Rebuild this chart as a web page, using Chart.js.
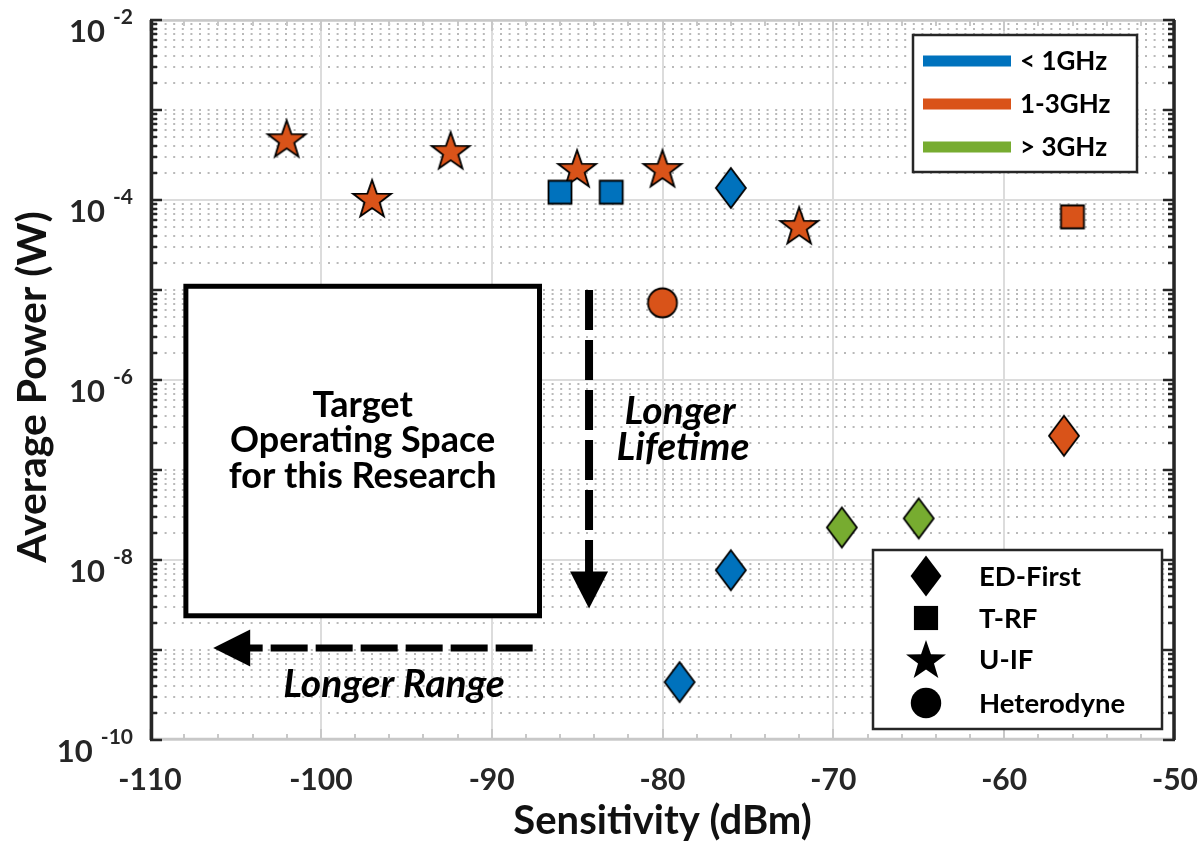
<!DOCTYPE html>
<html><head><meta charset="utf-8">
<script src="https://cdn.jsdelivr.net/npm/chart.js@4.4.0/dist/chart.umd.min.js"></script>
<style>html,body{margin:0;padding:0;background:#fff;}#wrap{width:1201px;height:848px;}</style>
</head><body><div id="wrap"><canvas id="c" width="1201" height="848"></canvas></div>
<script>
// ---- tick labels / categories ----
const xTickValues = [-110, -100, -90, -80, -70, -60, -50];
const yTickExponents = [-10, -8, -6, -4, -2];
const bandNames = ['< 1GHz', '1-3GHz', '> 3GHz'];
const archNames = ['ED-First', 'T-RF', 'U-IF', 'Heterodyne'];

// ---- series values (Sensitivity dBm, Average Power W) ----
const edFirstLowX  = [-76, -76, -79];
const edFirstLowY  = [1.36e-4, 7.7e-9, 4.4e-10];
const edFirstMidX  = [-56.5];
const edFirstMidY  = [2.4e-7];
const edFirstHighX = [-69.5, -65];
const edFirstHighY = [2.3e-8, 2.9e-8];
const trfLowX = [-86, -83];
const trfLowY = [1.22e-4, 1.22e-4];
const trfMidX = [-56];
const trfMidY = [6.5e-5];
const uifMidX = [-102, -97, -92.4, -85, -80, -72];
const uifMidY = [4.6e-4, 1.0e-4, 3.4e-4, 2.15e-4, 2.15e-4, 5.0e-5];
const hetMidX = [-80];
const hetMidY = [7.2e-6];

// ---- annotation positions (data units) ----
const targetBox = {x0: -107.9, x1: -87.2, y0: 2.4e-9, y1: 1.1e-5};
const lifetimeArrow = {x: -84.3, yStart: 1.0e-5, yTip: 2.9e-9};
const rangeArrow = {y: 1.05e-9, xStart: -87.6, xTip: -106.3};

const COLORS = ['#0072BD', '#D95319', '#77AC30'];
const FONT = 'Lato, "Open Sans", sans-serif';

function shapePath(g, shape, s) {
  g.beginPath();
  if (shape === 'diamond') {
    g.moveTo(0, -20 * s); g.lineTo(15 * s, 0); g.lineTo(0, 20 * s); g.lineTo(-15 * s, 0); g.closePath();
  } else if (shape === 'square') {
    g.rect(-11.5 * s, -11.5 * s, 23 * s, 23 * s);
  } else if (shape === 'star') {
    const R = 20 * s, r = R * 0.4;
    for (let i = 0; i < 10; i++) {
      const a = -Math.PI / 2 + i * Math.PI / 5;
      const rr = i % 2 === 0 ? R : r;
      const px = rr * Math.cos(a), py = rr * Math.sin(a);
      if (i === 0) g.moveTo(px, py); else g.lineTo(px, py);
    }
    g.closePath();
  } else {
    g.arc(0, 0, 14.5 * s, 0, Math.PI * 2);
  }
}
function makeMarker(shape, fill) {
  const c = document.createElement('canvas');
  c.width = 48; c.height = 48;
  const g = c.getContext('2d');
  g.translate(24, 24);
  shapePath(g, shape, 1);
  g.fillStyle = fill; g.fill();
  g.lineWidth = 1.8; g.strokeStyle = '#000'; g.lineJoin = 'miter'; g.stroke();
  return c;
}
function pts(xs, ys) { return xs.map((x, i) => ({x: x, y: ys[i]})); }
function ds(label, xs, ys, shape, color) {
  return {label: label, data: pts(xs, ys), pointStyle: makeMarker(shape, color),
          pointRadius: 18, pointHoverRadius: 18, showLine: false};
}

const datasets = [
  ds('ED-First < 1GHz', edFirstLowX, edFirstLowY, 'diamond', COLORS[0]),
  ds('ED-First 1-3GHz', edFirstMidX, edFirstMidY, 'diamond', COLORS[1]),
  ds('ED-First > 3GHz', edFirstHighX, edFirstHighY, 'diamond', COLORS[2]),
  ds('T-RF < 1GHz', trfLowX, trfLowY, 'square', COLORS[0]),
  ds('T-RF 1-3GHz', trfMidX, trfMidY, 'square', COLORS[1]),
  ds('U-IF 1-3GHz', uifMidX, uifMidY, 'star', COLORS[1]),
  ds('Heterodyne 1-3GHz', hetMidX, hetMidY, 'circle', COLORS[1])
];

function dashedLine(ctx, x0, y0, x1, y1, dash, gap) {
  const len = Math.hypot(x1 - x0, y1 - y0), ux = (x1 - x0) / len, uy = (y1 - y0) / len;
  let d = 0;
  ctx.beginPath();
  while (d < len) {
    const e = Math.min(d + dash, len);
    ctx.moveTo(x0 + ux * d, y0 + uy * d); ctx.lineTo(x0 + ux * e, y0 + uy * e);
    d = e + gap;
  }
  ctx.stroke();
}

const backgroundPlugin = {
  id: 'decor',
  beforeDraw(chart) {
    const ctx = chart.ctx;
    ctx.save(); ctx.fillStyle = '#fff'; ctx.fillRect(0, 0, chart.width, chart.height); ctx.restore();
  },
  beforeDatasetsDraw(chart) {
    const {ctx, chartArea: ca, scales: {x, y}} = chart;
    const L = ca.left, R = ca.right, T = ca.top, B = ca.bottom;
    ctx.save();
    // minor dotted horizontal grid
    ctx.strokeStyle = '#b9b9b9'; ctx.lineWidth = 2; ctx.setLineDash([2, 6.6]);
    for (let e = -10; e < -2; e++) {
      for (let k = 1; k <= 9; k++) {
        if (k === 1 && e % 2 === 0) continue;
        const py = Math.round(y.getPixelForValue(k * Math.pow(10, e)));
        ctx.beginPath(); ctx.moveTo(L + 6, py); ctx.lineTo(R - 2, py); ctx.stroke();
      }
    }
    ctx.setLineDash([]);
    // major grid
    ctx.strokeStyle = '#dcdcdc'; ctx.lineWidth = 2;
    yTickExponents.forEach(e => {
      const py = Math.round(y.getPixelForValue(Math.pow(10, e)));
      ctx.beginPath(); ctx.moveTo(L, py); ctx.lineTo(R, py); ctx.stroke();
    });
    xTickValues.forEach(v => {
      const px = Math.round(x.getPixelForValue(v));
      ctx.beginPath(); ctx.moveTo(px, T); ctx.lineTo(px, B); ctx.stroke();
    });
    // target box
    const bx0 = x.getPixelForValue(targetBox.x0), bx1 = x.getPixelForValue(targetBox.x1);
    const by0 = y.getPixelForValue(targetBox.y1), by1 = y.getPixelForValue(targetBox.y0);
    ctx.fillStyle = '#fff'; ctx.fillRect(bx0, by0, bx1 - bx0, by1 - by0);
    ctx.strokeStyle = '#000'; ctx.lineWidth = 5; ctx.strokeRect(bx0, by0, bx1 - bx0, by1 - by0);
    ctx.fillStyle = '#000'; ctx.textAlign = 'center'; ctx.textBaseline = 'alphabetic';
    ctx.font = 'bold 36px ' + FONT;
    const cx = (bx0 + bx1) / 2;
    ctx.fillText('Target', cx, 417);
    ctx.fillText('Operating Space', cx, 452);
    ctx.fillText('for this Research', cx, 488);
    // vertical arrow
    const ax = x.getPixelForValue(lifetimeArrow.x);
    const ay0 = y.getPixelForValue(lifetimeArrow.yStart), ayT = y.getPixelForValue(lifetimeArrow.yTip);
    ctx.lineWidth = 8; ctx.lineCap = 'butt';
    dashedLine(ctx, ax, ay0, ax, ayT - 34, 40, 10);
    ctx.beginPath(); ctx.moveTo(ax - 19, ayT - 37); ctx.lineTo(ax + 19, ayT - 37); ctx.lineTo(ax, ayT); ctx.closePath(); ctx.fill();
    // horizontal arrow
    const hy = y.getPixelForValue(rangeArrow.y);
    const hx0 = x.getPixelForValue(rangeArrow.xStart), hxT = x.getPixelForValue(rangeArrow.xTip);
    ctx.lineWidth = 7;
    dashedLine(ctx, hx0, hy, hxT + 34, hy, 37, 8);
    ctx.beginPath(); ctx.moveTo(hxT + 37, hy - 18.5); ctx.lineTo(hxT + 37, hy + 18.5); ctx.lineTo(hxT, hy); ctx.closePath(); ctx.fill();
    // arrow texts
    ctx.font = 'italic bold 39px ' + FONT;
    ctx.fillText('Longer', 680, 424);
    ctx.fillText('Lifetime', 683, 460);
    ctx.fillText('Longer Range', 394, 697);
    // axes: top/bottom light
    ctx.strokeStyle = '#c8c8c8'; ctx.lineWidth = 2.5;
    ctx.beginPath(); ctx.moveTo(L, T + 0.5); ctx.lineTo(R, T + 0.5); ctx.moveTo(L, B - 1); ctx.lineTo(R, B - 1); ctx.stroke();
    ctx.lineWidth = 2;
    for (let v = -110; v <= -50; v += 2) {
      const px = Math.round(x.getPixelForValue(v));
      const len = (v % 10 === 0) ? 11 : 6;
      ctx.beginPath(); ctx.moveTo(px, B); ctx.lineTo(px, B - len); ctx.moveTo(px, T); ctx.lineTo(px, T + len); ctx.stroke();
    }
    // left/right dark axes
    ctx.strokeStyle = '#262626'; ctx.lineWidth = 3.5;
    ctx.beginPath(); ctx.moveTo(L + 1.5, T); ctx.lineTo(L + 1.5, B); ctx.moveTo(R - 1, T); ctx.lineTo(R - 1, B); ctx.stroke();
    ctx.lineWidth = 2.5;
    for (let e = -10; e <= -2; e++) {
      for (let k = 1; k <= 9; k++) {
        if (e === -2 && k > 1) break;
        const py = Math.round(y.getPixelForValue(k * Math.pow(10, e)));
        const len = k === 1 ? 12 : 7;
        ctx.beginPath(); ctx.moveTo(L, py); ctx.lineTo(L + len, py); ctx.moveTo(R, py); ctx.lineTo(R - len, py); ctx.stroke();
      }
    }
    // y tick labels with superscript
    ctx.fillStyle = '#262626'; ctx.textAlign = 'left';
    yTickExponents.forEach(e => {
      const py = y.getPixelForValue(Math.pow(10, e));
      const sup = String(e);
      ctx.font = 'bold 21px ' + FONT;
      const ws = ctx.measureText(sup).width;
      ctx.font = 'bold 31px ' + FONT;
      const wb = ctx.measureText('10').width;
      const right = 133;
      ctx.fillText('10', right - ws - 8 - wb, py + 22);
      ctx.font = 'bold 21px ' + FONT;
      ctx.fillText(sup, right - ws, py + 4);
    });
    // axis titles
    ctx.fillStyle = '#111';
    ctx.font = 'bold 40px ' + FONT; ctx.textAlign = 'center'; ctx.textBaseline = 'alphabetic';
    ctx.fillText('Sensitivity (dBm)', (L + R) / 2, 834);
    ctx.save(); ctx.translate(46, 387); ctx.rotate(-Math.PI / 2);
    ctx.font = 'bold 41px ' + FONT;
    ctx.fillText('Average Power (W)', 0, 0); ctx.restore();
    ctx.restore();
  },
  afterDatasetsDraw(chart) {
    const {ctx, chartArea: ca} = chart;
    ctx.save();
    // band legend
    const lx0 = 913, ly0 = 35, lx1 = 1137, ly1 = 172;
    ctx.fillStyle = '#fff'; ctx.fillRect(lx0, ly0, lx1 - lx0, ly1 - ly0);
    ctx.strokeStyle = '#262626'; ctx.lineWidth = 2.5; ctx.strokeRect(lx0, ly0, lx1 - lx0, ly1 - ly0);
    ctx.font = 'bold 26px ' + FONT; ctx.textAlign = 'left'; ctx.textBaseline = 'middle';
    bandNames.forEach((name, i) => {
      const yy = 61 + i * 43;
      ctx.strokeStyle = COLORS[i]; ctx.lineWidth = 11; ctx.lineCap = 'butt';
      ctx.beginPath(); ctx.moveTo(923, yy); ctx.lineTo(1011, yy); ctx.stroke();
      ctx.fillStyle = '#000'; ctx.fillText(name, 1020, yy + 1);
    });
    // shape legend
    const sx0 = 873, sy0 = 550, sx1 = 1162, sy1 = 729;
    ctx.fillStyle = '#fff'; ctx.fillRect(sx0, sy0, sx1 - sx0, sy1 - sy0);
    ctx.strokeStyle = '#262626'; ctx.lineWidth = 2.5; ctx.strokeRect(sx0, sy0, sx1 - sx0, sy1 - sy0);
    const shapes = ['diamond', 'square', 'star', 'circle'];
    const rows = [576, 618, 659, 703];
    archNames.forEach((name, i) => {
      ctx.save(); ctx.translate(926, rows[i] + (shapes[i] === 'star' ? 2 : 0));
      shapePath(ctx, shapes[i], i === 0 ? 1.03 : 1.05);
      ctx.fillStyle = '#000'; ctx.fill(); ctx.restore();
      ctx.fillStyle = '#000'; ctx.font = 'bold 27.5px ' + FONT;
      ctx.fillText(name, 979, rows[i] + 1);
    });
    ctx.restore();
  }
};

new Chart(document.getElementById('c'), {
  type: 'scatter',
  data: {datasets: datasets},
  options: {
    responsive: false, animation: false, events: [],
    layout: {padding: {top: 20, right: 26, left: 0, bottom: 0}},
    plugins: {legend: {display: false}, tooltip: {enabled: false}},
    scales: {
      x: {
        type: 'linear', min: -110, max: -50,
        afterBuildTicks: s => { s.ticks = xTickValues.map(v => ({value: v})); },
        ticks: {color: '#262626', font: {family: FONT, size: 30, weight: 'bold'}, padding: 14, maxRotation: 0,
                callback: v => String(v)},
        grid: {display: false}, border: {display: false},
        afterFit: s => { s.height = 108; s.paddingLeft = 0; s.paddingRight = 0; }
      },
      y: {
        type: 'logarithmic', min: 1e-10, max: 1e-2,
        ticks: {display: false}, grid: {display: false}, border: {display: false},
        afterFit: s => { s.width = 150; s.paddingTop = 0; s.paddingBottom = 0; }
      }
    }
  },
  plugins: [backgroundPlugin]
});
</script></body></html>
